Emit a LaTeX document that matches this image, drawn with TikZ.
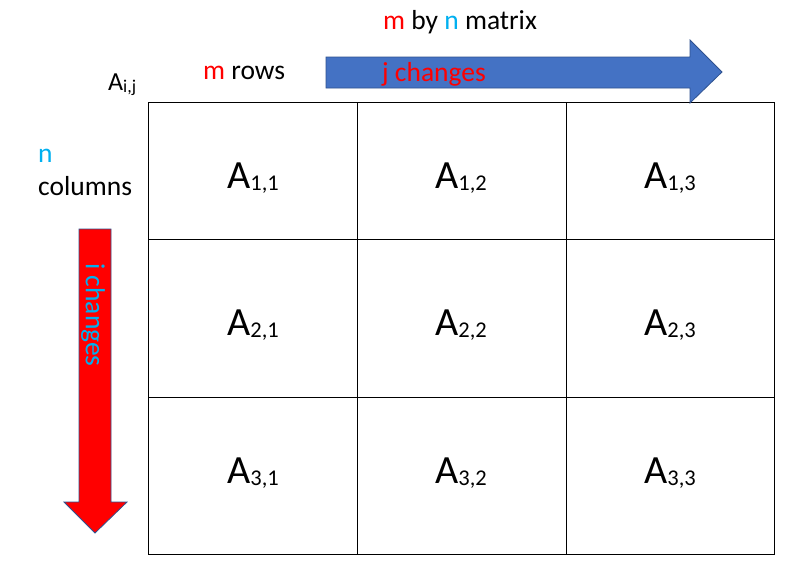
\documentclass[tikz,border=0pt]{standalone}
\usepackage{fontspec}
\setmainfont{Carlito}
\definecolor{pptred}{HTML}{FF0000}
\definecolor{pptcyan}{HTML}{00B0F0}
\definecolor{pptblue}{HTML}{4472C4}
\definecolor{pptedge}{HTML}{2F528F}
\newcommand{\lbl}{\fontsize{27.5}{32}\selectfont}
\newcommand{\cellA}[1]{\fontsize{40}{46}\selectfont A\raisebox{-2.5pt}{\fontsize{22.5}{26}\selectfont #1}}
\begin{document}
\begin{tikzpicture}[x=1pt,y=-1pt,
  cellbox/.style={draw=black,line width=1.2pt,inner sep=0pt,anchor=north west},
  txt/.style={inner sep=0pt,anchor=base west},
  celltxt/.style={inner sep=0pt,anchor=base},
  bigarrow/.style={draw=pptedge,line width=0.8pt,line join=miter}]
\useasboundingbox (0,0) rectangle (806,576);
\fill[white] (0,0) rectangle (806,576);
% grid cells
\node[cellbox,minimum width=209pt,minimum height=137pt] (c11) at (148,102) {};
\node[cellbox,minimum width=209pt,minimum height=137pt] (c12) at (357,102) {};
\node[cellbox,minimum width=208pt,minimum height=137pt] (c13) at (566,102) {};
\node[cellbox,minimum width=209pt,minimum height=158pt] (c21) at (148,239) {};
\node[cellbox,minimum width=209pt,minimum height=158pt] (c22) at (357,239) {};
\node[cellbox,minimum width=208pt,minimum height=158pt] (c23) at (566,239) {};
\node[cellbox,minimum width=209pt,minimum height=157pt] (c31) at (148,397) {};
\node[cellbox,minimum width=209pt,minimum height=157pt] (c32) at (357,397) {};
\node[cellbox,minimum width=208pt,minimum height=157pt] (c33) at (566,397) {};
% cell labels
\node[celltxt] (t11) at (253,188) {\cellA{1,1}};
\node[celltxt] (t12) at (461,188) {\cellA{1,2}};
\node[celltxt] (t13) at (670,188) {\cellA{1,3}};
\node[celltxt] (t21) at (253,335) {\cellA{2,1}};
\node[celltxt] (t22) at (461,335) {\cellA{2,2}};
\node[celltxt] (t23) at (670,335) {\cellA{2,3}};
\node[celltxt] (t31) at (253,483) {\cellA{3,1}};
\node[celltxt] (t32) at (461,483) {\cellA{3,2}};
\node[celltxt] (t33) at (670,483) {\cellA{3,3}};
% blue arrow
\draw[bigarrow,fill=pptblue] (326,57) -- (690,57) -- (690,40) -- (722,72) -- (690,103) -- (690,88) -- (326,88) -- cycle;
% red arrow
\draw[bigarrow,fill=pptred] (79,229) -- (111,229) -- (111,502) -- (127,502) -- (95,533) -- (64,502) -- (79,502) -- cycle;
% texts
\node[txt] (title) at (383,29) {\lbl\textcolor{pptred}{m} by \textcolor{pptcyan}{n} matrix};
\node[txt] (rows) at (203,79) {\lbl\textcolor{pptred}{m} rows};
\node[txt] (aij) at (108,90) {\fontsize{26}{30}\selectfont A\raisebox{-2pt}{\fontsize{18}{21}\selectfont i,j}};
\node[txt] (ncol) at (38,162) {\lbl\textcolor{pptcyan}{n}};
\node[txt] (cols) at (38,195) {\lbl columns};
\node[txt,text=pptred] (jch) at (382,81) {\lbl j changes};
\node[inner sep=0pt,rotate=-90,text=pptcyan] (ich) at (93,315) {\lbl i changes};
\end{tikzpicture}
\end{document}
